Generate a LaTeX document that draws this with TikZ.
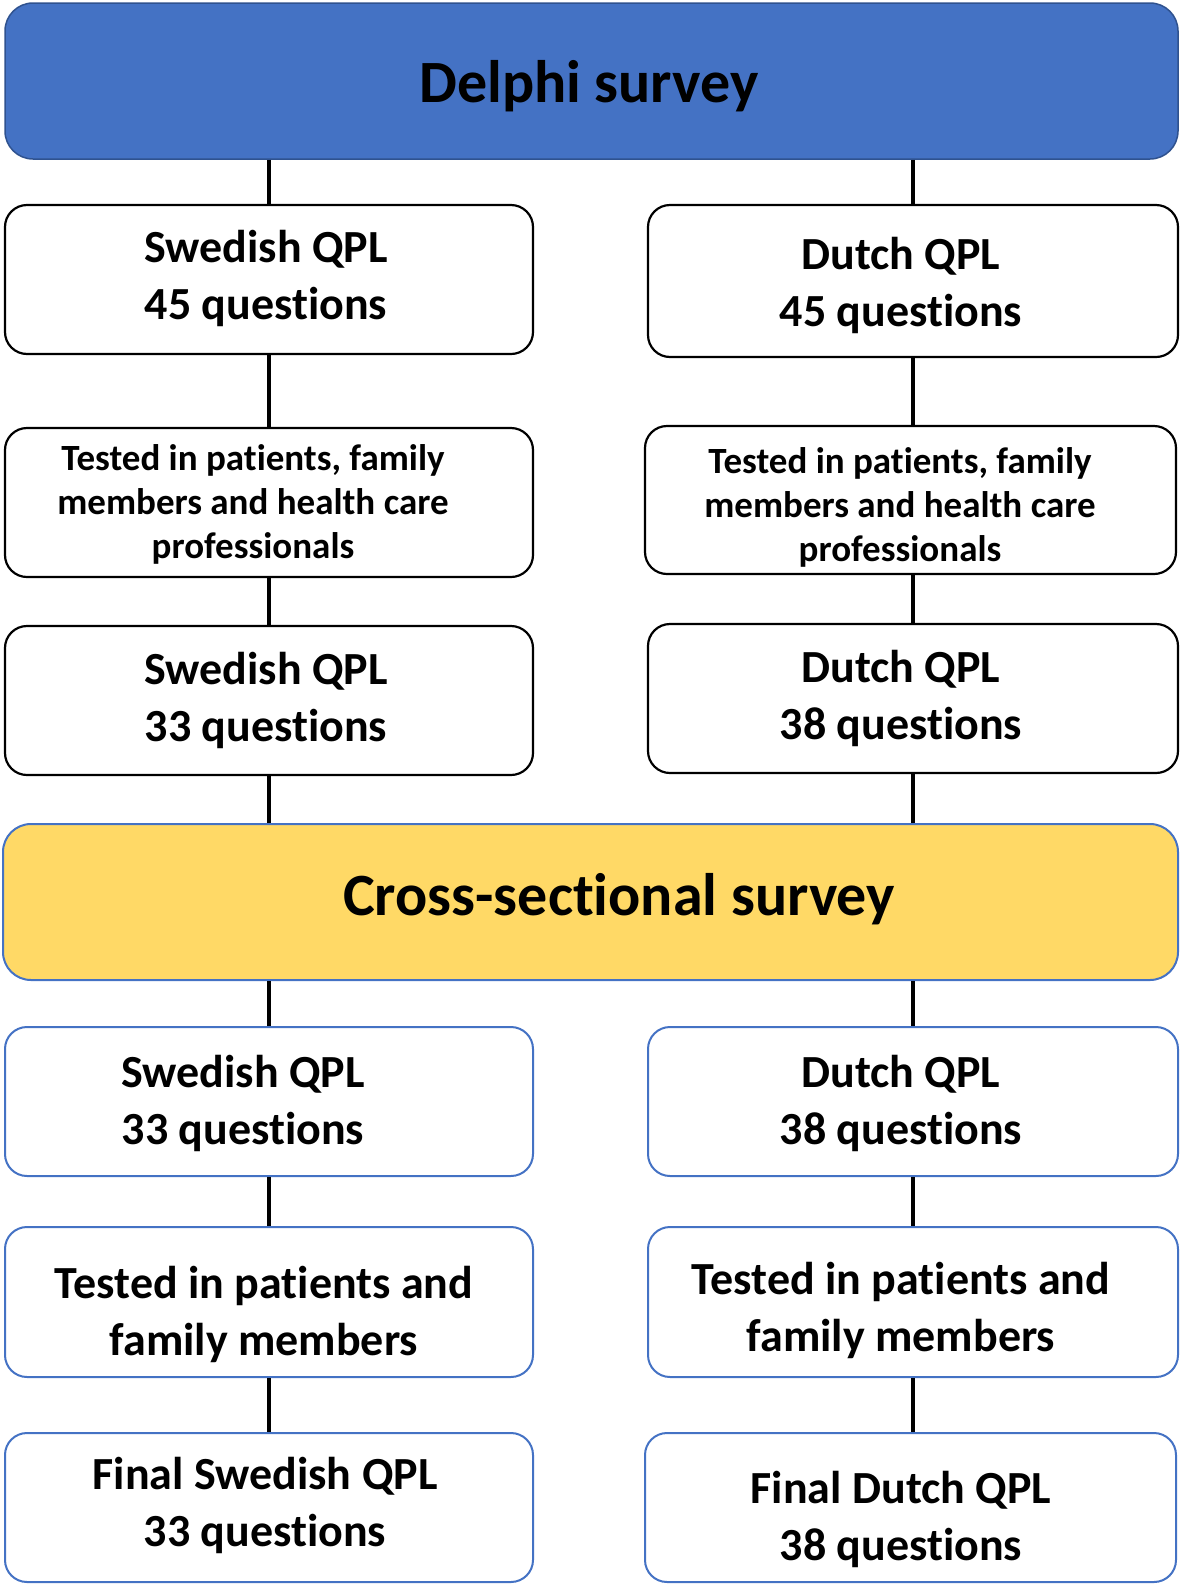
\documentclass[tikz,border=0pt]{standalone}
\usepackage{fontspec}
\setmainfont{Carlito}[RawFeature={-liga;-clig;-calt;-dlig}]
\definecolor{dblue}{HTML}{4472C4}
\definecolor{dborder}{HTML}{2F528F}
\definecolor{ylw}{HTML}{FFD966}
\begin{document}
\begin{tikzpicture}[x=1pt,y=-1pt,
  boxbase/.style={rectangle, rounded corners=22pt, inner sep=0pt},
  topbox/.style={boxbase, draw=black, line width=2.2pt, fill=white},
  lowbox/.style={boxbase, draw=dblue, line width=2pt, fill=white},
  lbl/.style={font=\bfseries\fontsize{46}{56.5}\selectfont, align=center, inner sep=0pt, anchor=base},
  slbl/.style={font=\bfseries\fontsize{37}{44}\selectfont, align=center, inner sep=0pt, anchor=base},
  big/.style={font=\bfseries\fontsize{60}{70}\selectfont, inner sep=0pt, anchor=base},
  conn/.style={line width=3.5pt, draw=black}]
\useasboundingbox (0,0) rectangle (1181,1585);
% boxes (center, width, height)
\node[boxbase, rounded corners=28pt, draw=dborder, line width=1.5pt, fill=dblue, minimum width=1173pt, minimum height=156pt] (delphi) at (591.5,81) {};
\node[topbox, minimum width=528pt, minimum height=149pt] (L1) at (269,279.5) {};
\node[topbox, minimum width=530pt, minimum height=152pt] (R1) at (913,281) {};
\node[topbox, minimum width=528pt, minimum height=149pt] (L2) at (269,502.5) {};
\node[topbox, minimum width=531pt, minimum height=148pt] (R2) at (910.5,500) {};
\node[topbox, minimum width=528pt, minimum height=149pt] (L3) at (269,700.5) {};
\node[topbox, minimum width=530pt, minimum height=149pt] (R3) at (913,698.5) {};
\node[boxbase, rounded corners=28pt, draw=dblue, line width=2pt, fill=ylw, minimum width=1175pt, minimum height=156pt] (cross) at (590.5,902) {};
\node[lowbox, minimum width=528pt, minimum height=149pt] (L4) at (269,1101.5) {};
\node[lowbox, minimum width=530pt, minimum height=149pt] (R4) at (913,1101.5) {};
\node[lowbox, minimum width=528pt, minimum height=150pt] (L5) at (269,1302) {};
\node[lowbox, minimum width=530pt, minimum height=150pt] (R5) at (913,1302) {};
\node[lowbox, minimum width=528pt, minimum height=149pt] (L6) at (269,1507.5) {};
\node[lowbox, minimum width=531pt, minimum height=149pt] (R6) at (910.5,1507.5) {};
% connectors
\draw[conn] (L1.north |- delphi.south) -- (L1.north);
\draw[conn] (R1.north |- delphi.south) -- (R1.north);
\draw[conn] (L1.south) -- (L2.north);
\draw[conn] (R1.south) -- (R1.south |- R2.north);
\draw[conn] (L2.south) -- (L3.north);
\draw[conn] (R2.south -| R3.north) -- (R3.north);
\draw[conn] (L3.south) -- (L3.south |- cross.north);
\draw[conn] (R3.south) -- (R3.south |- cross.north);
\draw[conn] (L4.north |- cross.south) -- (L4.north);
\draw[conn] (R4.north |- cross.south) -- (R4.north);
\draw[conn] (L4.south) -- (L5.north);
\draw[conn] (R4.south) -- (R5.north);
\draw[conn] (L5.south) -- (L6.north);
\draw[conn] (R5.south) -- (R5.south |- R6.north);
% texts (anchor = baseline of last line)
\node[big] (tdelphi) at (589,102) {Delphi survey};
\node[big] (tcross) at (619,915) {Cross-sectional survey};
\node[lbl] (tL1) at (266,319) {Swedish QPL\\45 questions};
\node[lbl] (tR1) at (901,326) {Dutch QPL\\45 questions};
\node[slbl] (tL2) at (253,558) {Tested in patients, family\\members and health care\\professionals};
\node[slbl] (tR2) at (900,561) {Tested in patients, family\\members and health care\\professionals};
\node[lbl] (tL3) at (266,741) {Swedish QPL\\33 questions};
\node[lbl] (tR3) at (901,739) {Dutch QPL\\38 questions};
\node[lbl] (tL4) at (243,1144) {Swedish QPL\\33 questions};
\node[lbl] (tR4) at (901,1144) {Dutch QPL\\38 questions};
\node[lbl] (tL5) at (264,1355) {Tested in patients and\\family members};
\node[lbl] (tR5) at (901,1351) {Tested in patients and\\family members};
\node[lbl] (tL6) at (265,1546) {Final Swedish QPL\\33 questions};
\node[lbl] (tR6) at (901,1560) {Final Dutch QPL\\38 questions};
\end{tikzpicture}
\end{document}
